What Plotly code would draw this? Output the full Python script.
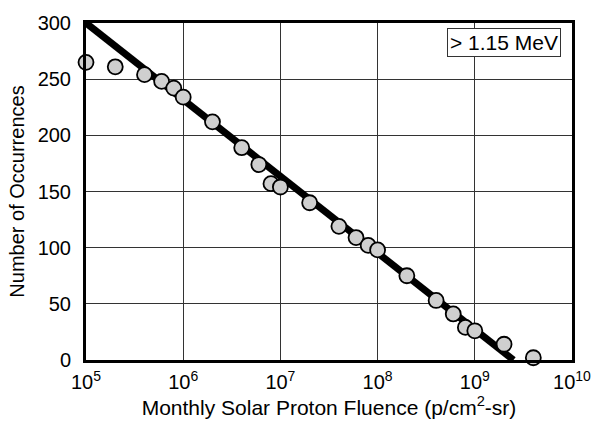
import plotly.graph_objects as go

fluence = [1e5, 2e5, 4e5, 6e5, 8e5, 1e6, 2e6, 4e6, 6e6, 8e6, 1e7, 2e7,
           4e7, 6e7, 8e7, 1e8, 2e8, 4e8, 6e8, 8e8, 1e9, 2e9, 4e9]
occurrences = [265, 261, 254, 248, 242, 234, 212, 189, 174, 157, 154, 140,
               119, 109, 102, 98, 75, 53, 41, 29, 26, 14, 2]
fit_x = [1e5, 2.5e9]
fit_y = [300, 0]
x_tickvals = [1e5, 1e6, 1e7, 1e8, 1e9, 1e10]
x_ticktext = ["10<sup>5</sup>", "10<sup>6</sup>", "10<sup>7</sup>", "10<sup>8</sup>",
              "10<sup>9</sup>", "10<sup>10</sup>"]
y_tickvals = [0, 50, 100, 150, 200, 250, 300]
label = "&gt; 1.15 MeV"

font = "Liberation Sans, Arial, Helvetica, sans-serif"

fig = go.Figure()
fig.add_trace(go.Scatter(x=fit_x, y=fit_y, mode="lines",
                         line=dict(color="black", width=7), showlegend=False))
fig.add_trace(go.Scatter(x=fluence, y=occurrences, mode="markers",
                         marker=dict(size=15, color="#cfcfcf",
                                     line=dict(color="black", width=1.8)),
                         showlegend=False, cliponaxis=False))

fig.update_layout(
    width=603, height=426,
    margin=dict(l=86, r=23, t=15, b=65),
    paper_bgcolor="white", plot_bgcolor="white",
    font=dict(family=font, size=20, color="black"),
    xaxis=dict(type="log", range=[5, 10], tickvals=x_tickvals, ticktext=x_ticktext,
               showgrid=True, gridcolor="#333333", gridwidth=1,
               showline=True, linecolor="black", linewidth=3, mirror=True,
               ticks="", zeroline=False, ticklabelstandoff=2,
               title=dict(text="Monthly Solar Proton Fluence (p/cm<sup>2</sup>-sr)",
                          font=dict(size=21), standoff=6),
               tickfont=dict(size=20)),
    yaxis=dict(range=[0, 300], tickvals=y_tickvals,
               showgrid=True, gridcolor="#333333", gridwidth=1,
               showline=True, linecolor="black", linewidth=3, mirror=True,
               ticks="", zeroline=False, ticklabelstandoff=8,
               title=dict(text="Number of Occurrences", font=dict(size=20), standoff=8),
               tickfont=dict(size=20)),
    annotations=[dict(text=label, xref="paper", yref="paper", x=0.978, y=0.985,
                      xanchor="right", yanchor="top", showarrow=False,
                      font=dict(size=21, color="black"),
                      bordercolor="#333333", borderwidth=1, borderpad=2,
                      bgcolor="white")],
)

fig.write_html("out.html")
